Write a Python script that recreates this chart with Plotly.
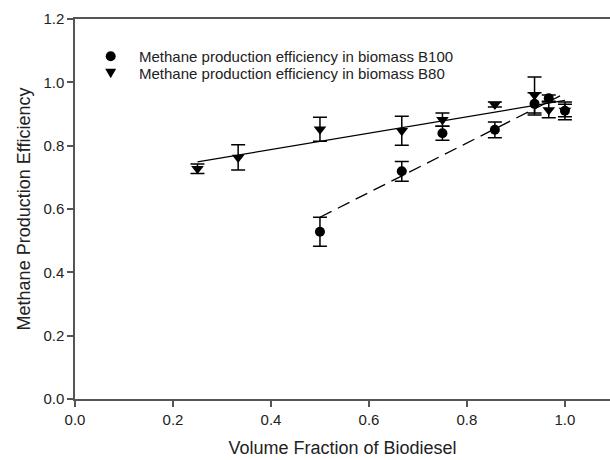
import plotly.graph_objects as go

# ---- data ----
b100_x = [0.5, 0.667, 0.75, 0.857, 0.938, 0.967, 1.0]
b100_y = [0.528, 0.719, 0.839, 0.850, 0.932, 0.950, 0.910]
b100_err = [0.046, 0.031, 0.022, 0.025, 0.035, 0.010, 0.028]

b80_x = [0.25, 0.333, 0.5, 0.667, 0.75, 0.857, 0.938, 0.967, 1.0]
b80_y = [0.727, 0.763, 0.852, 0.847, 0.882, 0.930, 0.960, 0.913, 0.911]
b80_err = [0.015, 0.040, 0.038, 0.046, 0.021, 0.008, 0.057, 0.025, 0.020]

# regression lines (end points)
fit_b80_x = [0.25, 1.0]
fit_b80_y = [0.749, 0.943]
fit_b100_x = [0.5, 0.99]
fit_b100_y = [0.574, 0.957]

x_ticks = [0.0, 0.2, 0.4, 0.6, 0.8, 1.0]
y_ticks = [0.0, 0.2, 0.4, 0.6, 0.8, 1.0, 1.2]

legend_labels = ["Methane production efficiency in biomass B100",
                 "Methane production efficiency in biomass B80"]

FONT = "Liberation Sans, Arial, sans-serif"
AXIS_COLOR = "#555555"
TXT = "#222222"

fig = go.Figure()

fig.add_trace(go.Scatter(
    x=fit_b80_x, y=fit_b80_y, mode="lines",
    line=dict(color="black", width=1.3), showlegend=False, hoverinfo="skip"))
fig.add_trace(go.Scatter(
    x=fit_b100_x, y=fit_b100_y, mode="lines",
    line=dict(color="black", width=1.3, dash="13px,7px"), showlegend=False, hoverinfo="skip"))

fig.add_trace(go.Scatter(
    x=b100_x, y=b100_y, mode="markers", name=legend_labels[0], showlegend=False,
    marker=dict(symbol="circle", size=10, color="black"),
    error_y=dict(type="data", array=b100_err, visible=True, color="black",
                 thickness=1.5, width=7)))
fig.add_trace(go.Scatter(
    x=b80_x, y=b80_y, mode="markers", name=legend_labels[1], showlegend=False,
    marker=dict(symbol="triangle-down", size=11, color="black"),
    error_y=dict(type="data", array=b80_err, visible=True, color="black",
                 thickness=1.5, width=7)))

# ---- legend (drawn as shapes + text, positioned in paper coordinates) ----
leg_sym_x = 0.0667   # ~ 110.7 px
leg_txt_x = 0.1153   # ~ 136.7 px
leg_rows_y = [0.902, 0.857]
shapes = [
    dict(type="circle", xref="paper", yref="paper", xsizemode="pixel", ysizemode="pixel",
         xanchor=leg_sym_x, yanchor=leg_rows_y[0], x0=-5, x1=5, y0=-5, y1=5,
         fillcolor="black", line=dict(width=0)),
    dict(type="path", xref="paper", yref="paper", xsizemode="pixel", ysizemode="pixel",
         xanchor=leg_sym_x, yanchor=leg_rows_y[1],
         path="M -5.5 4.5 L 5.5 4.5 L 0 -5 Z",
         fillcolor="black", line=dict(width=0)),
]
annotations = [
    dict(text=lab, xref="paper", yref="paper", x=leg_txt_x, y=yy, xanchor="left",
         yanchor="middle", showarrow=False, font=dict(size=15, color=TXT))
    for lab, yy in zip(legend_labels, leg_rows_y)
]

fig.update_layout(
    width=610, height=460,
    margin=dict(l=75, r=0, t=19, b=61),
    paper_bgcolor="white", plot_bgcolor="white",
    font=dict(family=FONT, size=15, color=TXT),
    showlegend=False,
    shapes=shapes, annotations=annotations,
    xaxis=dict(range=[0, 1.092], tickvals=x_ticks, ticktext=[f"{v:.1f}" for v in x_ticks],
               showgrid=False, zeroline=False, showline=True, linecolor=AXIS_COLOR,
               linewidth=1.5, mirror=True, ticks="outside", ticklen=6, tickwidth=1.5,
               tickcolor=AXIS_COLOR, tickfont=dict(size=15),
               title=dict(text="Volume Fraction of Biodiesel", font=dict(size=18), standoff=15)),
    yaxis=dict(range=[0, 1.2], tickvals=y_ticks, ticktext=[f"{v:.1f}" for v in y_ticks],
               showgrid=False, zeroline=False, showline=True, linecolor=AXIS_COLOR,
               linewidth=1.5, mirror=False, ticks="outside", ticklen=6, tickwidth=1.5,
               tickcolor=AXIS_COLOR, tickfont=dict(size=15),
               title=dict(text="Methane Production Efficiency", font=dict(size=18), standoff=8)),
)

fig.write_html("out.html")
